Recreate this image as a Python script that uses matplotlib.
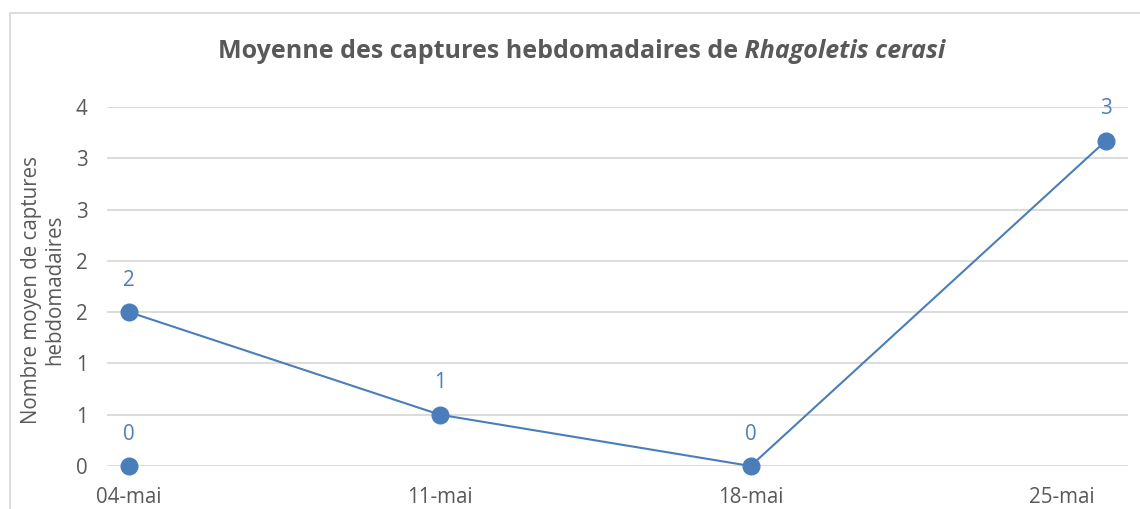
import matplotlib
matplotlib.use("Agg")
import matplotlib.pyplot as plt
from matplotlib.lines import Line2D

# ---- data ------------------------------------------------------------------
# day of month (mai) for each weekly capture
days = [4, 11, 18, 26]
mean_captures = [1.5, 0.5, 0.0, 3.17]
# second series: a single point on 04-mai
days_b = [4]
mean_captures_b = [0.0]
point_labels = ["2", "1", "0", "3"]
point_labels_b = ["0"]

x_tick_days = [4, 11, 18, 25]
x_tick_labels = ["04-mai", "11-mai", "18-mai", "25-mai"]
y_ticks = [0, 0.5, 1, 1.5, 2, 2.5, 3, 3.5]
y_tick_labels = ["0", "1", "1", "2", "2", "3", "3", "4"]

title_main = "Moyenne des captures hebdomadaires de"
title_species = "Rhagoletis cerasi"
ylabel = "Nombre moyen de captures\nhebdomadaires"

BLUE = "#4a7ebb"
GREY_TXT = "#595959"
GRID = "#d9d9d9"
FS = 14.8

plt.rcParams["font.family"] = ["Open Sans", "DejaVu Sans"]

W, H = 1140, 509
fig = plt.figure(figsize=(W / 100, H / 100), dpi=100)
ax = fig.add_axes([107 / W, 1 - 466 / H, (1128 - 107) / W, (466 - 107) / H])

ax.plot(days, mean_captures, color=BLUE, lw=1.5, marker="o", ms=12, zorder=3, clip_on=False)
ax.plot(days_b, mean_captures_b, color=BLUE, lw=1.5, marker="o", ms=12, zorder=3, clip_on=False)
for x, y, s in zip(days, mean_captures, point_labels):
    ax.annotate(s, (x, y), xytext=(0, 23), textcoords="offset points",
                ha="center", va="center", color=BLUE, fontsize=FS)
for x, y, s in zip(days_b, mean_captures_b, point_labels_b):
    ax.annotate(s, (x, y), xytext=(0, 23), textcoords="offset points",
                ha="center", va="center", color=BLUE, fontsize=FS)

ax.set_xlim(3.5, 26.5)
ax.set_ylim(0, 3.5)
ax.set_xticks(x_tick_days)
ax.set_xticklabels(x_tick_labels)
ax.set_yticks(y_ticks)
ax.set_yticklabels(y_tick_labels)
ax.tick_params(length=0, labelsize=FS, labelcolor=GREY_TXT)
ax.tick_params(axis="y", pad=14)
ax.tick_params(axis="x", pad=15)
ax.grid(axis="y", color=GRID, lw=1.3)
for sp in ax.spines.values():
    sp.set_visible(False)
ax.set_axisbelow(True)

fig.text(43 / W, 1 - 290 / H, ylabel, rotation=90, ha="center", va="center",
         color=GREY_TXT, fontsize=FS, linespacing=1.15)

# title: bold part + bold italic species name
t1 = fig.text(738 / W, 1 - 52 / H, title_main, ha="right", va="center",
              fontsize=18, fontweight="bold", color=GREY_TXT)
ax.annotate(" " + title_species, xy=(1, 0.5), xycoords=t1, ha="left", va="center",
            fontsize=18, fontweight="bold", fontstyle="italic", color=GREY_TXT)

# chart border (only left and top visible in the crop)
bx, by = 10 / W, 1 - 13 / H
fig.add_artist(Line2D([bx, bx, 1], [0, by, by], transform=fig.transFigure,
                      color=GRID, lw=1.3))

fig.savefig("out.png", dpi=100)
